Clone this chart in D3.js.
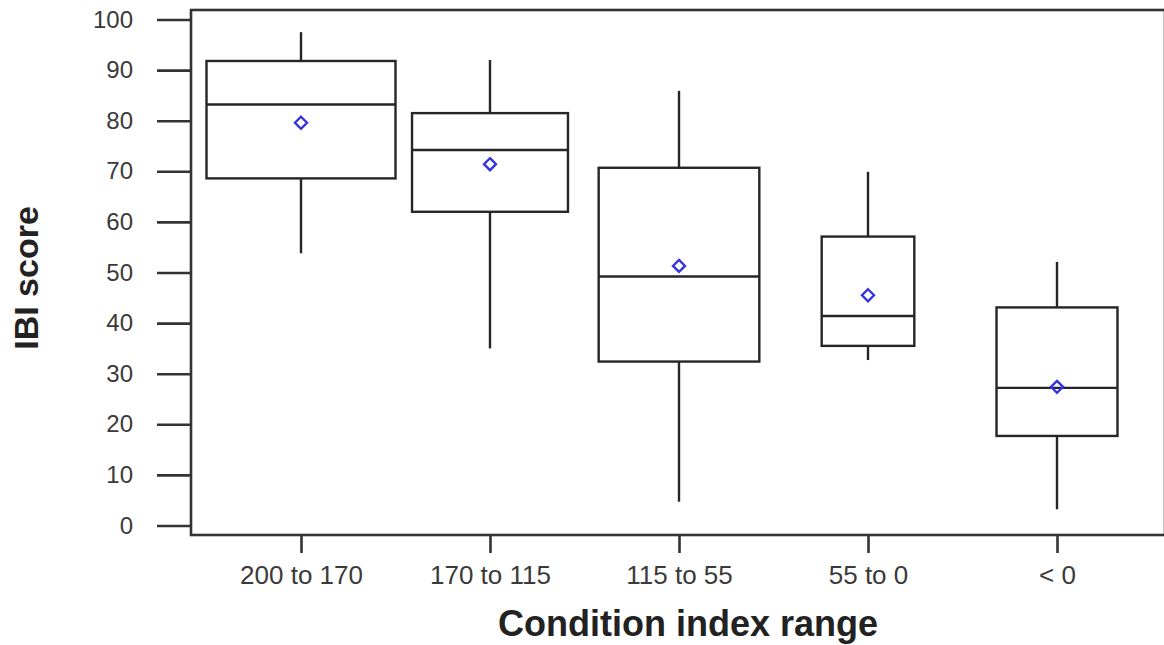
<!DOCTYPE html>
<html>
<head>
<meta charset="utf-8">
<script src="https://cdn.jsdelivr.net/npm/d3@7"></script>
<style>
  html, body { margin: 0; padding: 0; background: #fff; }
  svg { display: block; }
</style>
</head>
<body>
<svg id="chart" width="1164" height="645"></svg>
<script>
// ---- data ----
const categories = ["200 to 170", "170 to 115", "115 to 55", "55 to 0", "< 0"];
const whiskerLow  = [53.8, 35.0, 4.7, 32.7, 3.2];
const q1          = [68.6, 62.0, 32.4, 35.5, 17.7];
const median      = [83.2, 74.2, 49.2, 41.4, 27.2];
const q3          = [91.8, 81.5, 70.7, 57.1, 43.1];
const whiskerHigh = [97.5, 92.0, 85.9, 69.9, 52.1];
const means       = [79.6, 71.4, 51.3, 45.5, 27.4];
const relWidth    = [1.0, 0.825, 0.85, 0.49, 0.64]; // relative box widths (sample size)
const yTicks      = [0, 10, 20, 30, 40, 50, 60, 70, 80, 90, 100];

// ---- layout ----
const svg = d3.select("#chart");
const frame = { left: 191, right: 1165, top: 10, bottom: 535 };
const x = d3.scalePoint().domain(categories).range([301, 1057]);
const y = d3.scaleLinear().domain([0, 100]).range([525.5, 19.5]);
const step = x.step();
const font = "'Liberation Sans', Arial, Helvetica, sans-serif";
const ink = "#262626";
const sw = 2.4;

// frame
svg.append("rect")
  .attr("x", frame.left).attr("y", frame.top)
  .attr("width", frame.right - frame.left).attr("height", frame.bottom - frame.top)
  .attr("fill", "none").attr("stroke", "#333").attr("stroke-width", 2.6);

// y axis
const yAxis = d3.axisLeft(y).tickValues(yTicks).tickSize(34).tickPadding(24).tickSizeOuter(0);
const gy = svg.append("g").attr("transform", `translate(${frame.left},0)`).call(yAxis);
gy.select(".domain").remove();
gy.selectAll(".tick line").attr("stroke", "#333").attr("stroke-width", 2.6);
gy.selectAll(".tick text").attr("font-family", font).attr("font-size", 24).attr("fill", "#3a3a3a");

// x axis
const xAxis = d3.axisBottom(x).tickSize(18).tickPadding(13).tickSizeOuter(0);
const gx = svg.append("g").attr("transform", `translate(0,${frame.bottom})`).call(xAxis);
gx.select(".domain").remove();
gx.selectAll(".tick line").attr("stroke", "#333").attr("stroke-width", 2.6);
gx.selectAll(".tick text").attr("font-family", font).attr("font-size", 26).attr("fill", "#3a3a3a");

// boxes
const data = categories.map((c, i) => ({
  c, lo: whiskerLow[i], q1: q1[i], med: median[i], q3: q3[i], hi: whiskerHigh[i], mean: means[i], w: relWidth[i] * step
}));

const g = svg.append("g");
const boxes = g.selectAll("g.box").data(data).join("g").attr("class", "box");

boxes.append("line")
  .attr("x1", d => x(d.c)).attr("x2", d => x(d.c))
  .attr("y1", d => y(d.hi)).attr("y2", d => y(d.q3))
  .attr("stroke", ink).attr("stroke-width", sw);
boxes.append("line")
  .attr("x1", d => x(d.c)).attr("x2", d => x(d.c))
  .attr("y1", d => y(d.q1)).attr("y2", d => y(d.lo))
  .attr("stroke", ink).attr("stroke-width", sw);
boxes.append("rect")
  .attr("x", d => x(d.c) - d.w / 2).attr("width", d => d.w)
  .attr("y", d => y(d.q3)).attr("height", d => y(d.q1) - y(d.q3))
  .attr("fill", "none").attr("stroke", ink).attr("stroke-width", sw);
boxes.append("line")
  .attr("x1", d => x(d.c) - d.w / 2).attr("x2", d => x(d.c) + d.w / 2)
  .attr("y1", d => y(d.med)).attr("y2", d => y(d.med))
  .attr("stroke", ink).attr("stroke-width", sw);

// mean diamonds
const r = 6;
boxes.append("path")
  .attr("d", d => {
    const cx = x(d.c), cy = y(d.mean);
    return `M${cx},${cy - r}L${cx + r},${cy}L${cx},${cy + r}L${cx - r},${cy}Z`;
  })
  .attr("fill", "none").attr("stroke", "#3535e0").attr("stroke-width", 2.4);

// axis titles
svg.append("text")
  .attr("x", 688).attr("y", 636)
  .attr("text-anchor", "middle")
  .attr("font-family", font).attr("font-weight", "bold").attr("font-size", 36)
  .attr("fill", "#222")
  .text("Condition index range");

svg.append("text")
  .attr("transform", "translate(38,278) rotate(-90)")
  .attr("text-anchor", "middle")
  .attr("font-family", font).attr("font-weight", "bold").attr("font-size", 34)
  .attr("fill", "#222")
  .text("IBI score");
</script>
</body>
</html>
